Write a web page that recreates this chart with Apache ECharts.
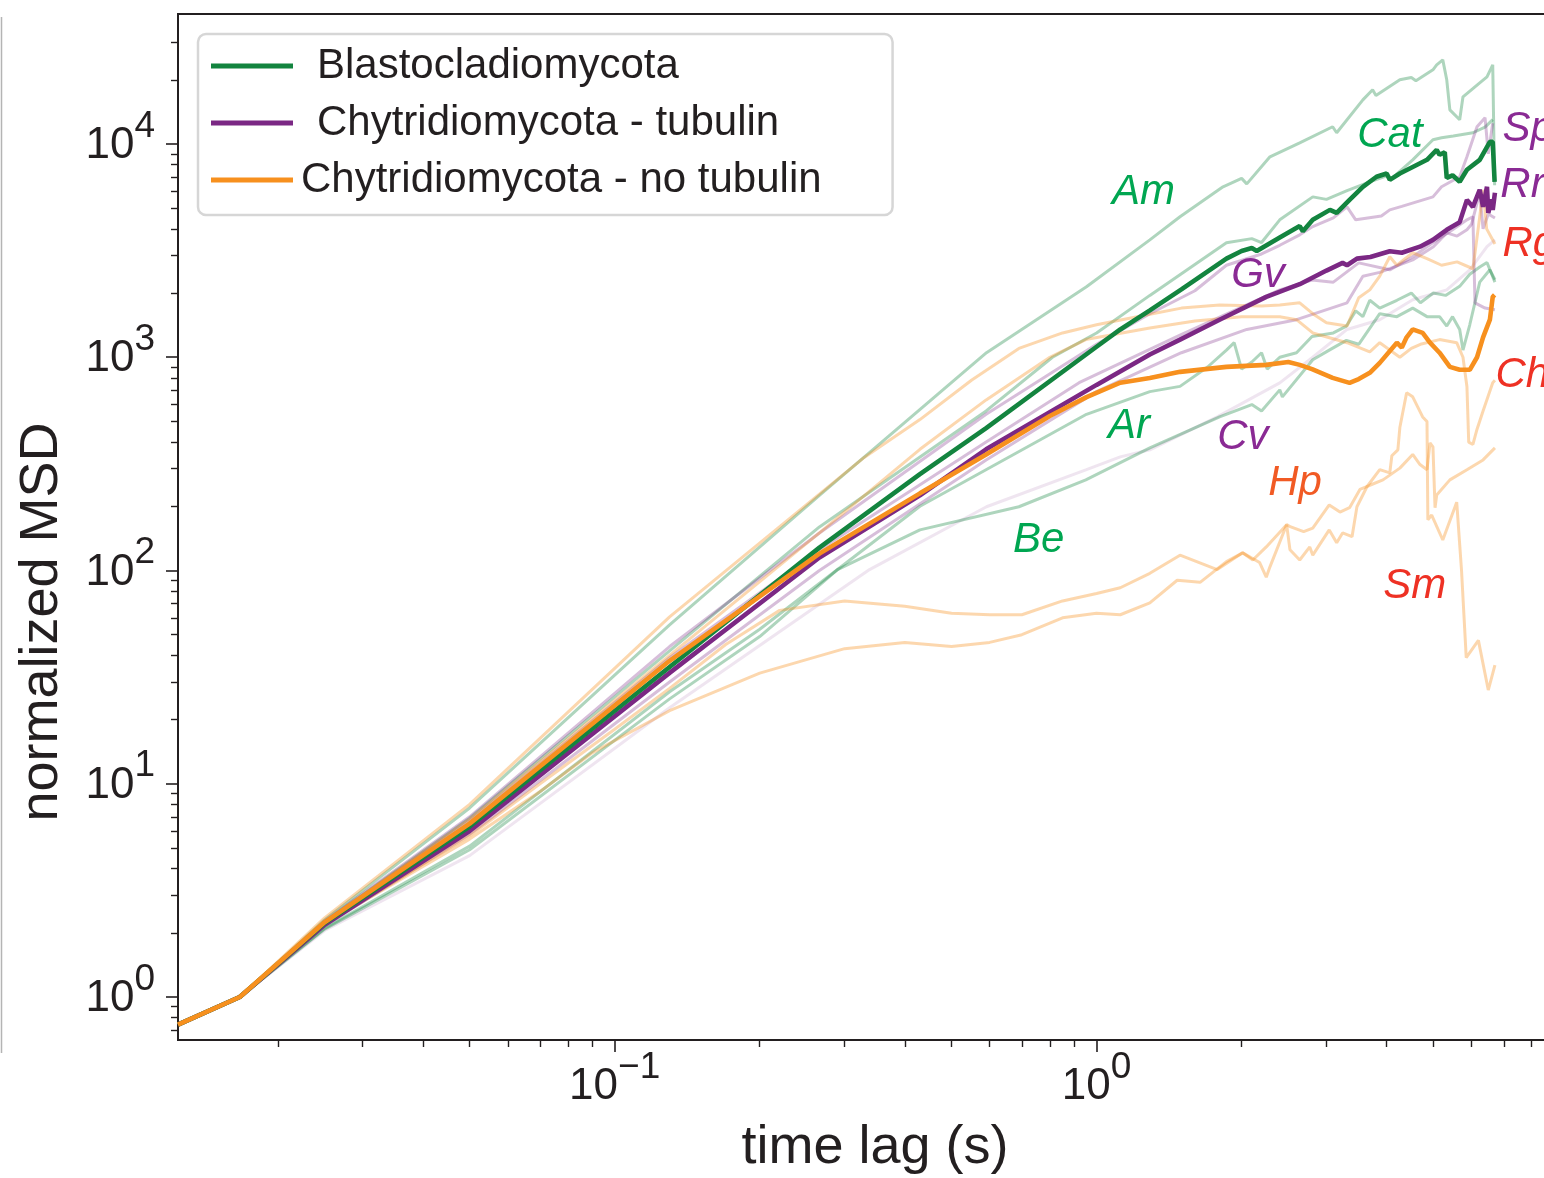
<!DOCTYPE html>
<html><head><meta charset="utf-8">
<script src="https://cdn.jsdelivr.net/npm/echarts@6/dist/echarts.min.js"></script>
<style>html,body{margin:0;padding:0;background:#fff}#c{width:1544px;height:1178px}</style>
</head><body><div id="c"></div>
<script>
const FONT = '"Liberation Sans", Arial, Helvetica, sans-serif';

// ---- tick values ----
const xMajorTicks = [0.1, 1];
const xMinorTicks = [0.02,0.03,0.04,0.05,0.06,0.07,0.08,0.09,0.2,0.3,0.4,0.5,0.6,0.7,0.8,0.9,2,3,4,5,6,7,8,9];
const yMajorTicks = [1, 10, 100, 1000, 10000];
const yMinorTicks = [0.7,0.8,0.9,2,3,4,5,6,7,8,9,20,30,40,50,60,70,80,90,200,300,400,500,600,700,800,900,2000,3000,4000,5000,6000,7000,8000,9000,20000,30000];

// ---- series: [time lag (s), normalized MSD] ----
const meanBlasto = [[0.01241,0.742],[0.01667,1.0],[0.025,2.22],[0.05,6.3],[0.13,35.3],[0.266,128],[0.43,283],[0.59,465],[1.0,1120],[1.12,1350],[1.29,1660],[1.5,2080],[1.86,2900],[2.0,3150],[2.1,3250],[2.15,3150],[2.4,3640],[2.64,4120],[2.68,3900],[2.81,4410],[3.05,4910],[3.15,4750],[3.35,5470],[3.57,6300],[3.81,7020],[4.0,7270],[4.06,6790],[4.26,7270],[4.53,7800],[4.85,8430],[5.08,9390],[5.15,8900],[5.28,9150],[5.33,6930],[5.48,7130],[5.67,6650],[5.87,7570],[6.24,8430],[6.55,10230],[6.64,10230],[6.7,6650]];
const meanTubulin = [[0.01241,0.742],[0.01667,1.0],[0.025,2.18],[0.05,6.0],[0.13,33.1],[0.266,115],[0.43,225],[0.59,370],[1.0,742],[1.29,1030],[1.49,1210],[1.8,1500],[2.25,1920],[2.64,2200],[3.0,2550],[3.24,2770],[3.31,2700],[3.47,2900],[3.7,2950],[4.06,3140],[4.3,3090],[4.69,3300],[4.99,3550],[5.33,3960],[5.67,4300],[5.87,5470],[6.04,5070],[6.24,6100],[6.34,5070],[6.46,6300],[6.5,4750],[6.6,5500],[6.64,4910],[6.71,5910]];
const meanNoTubulin = [[0.01241,0.742],[0.01667,1.0],[0.025,2.24],[0.05,6.5],[0.13,37.7],[0.266,120],[0.43,230],[0.59,350],[0.8,530],[0.953,650],[1.12,760],[1.29,800],[1.49,854],[1.86,901],[2.25,921],[2.5,950],[2.64,921],[2.8,880],[3.09,800],[3.35,758],[3.5,790],[3.69,845],[3.87,941],[4.2,1170],[4.3,1110],[4.4,1240],[4.53,1350],[4.75,1300],[4.92,1170],[5.15,1050],[5.41,901],[5.67,873],[5.95,873],[6.16,1000],[6.34,1240],[6.55,1500],[6.64,1920],[6.7,1960]];

const Am = [[0.01241,0.742],[0.01667,1.0],[0.025,2.3],[0.05,7.7],[0.13,55.6],[0.266,225],[0.591,1050],[0.953,2140],[1.29,3550],[1.49,4560],[1.83,6300],[2.0,6900],[2.05,6500],[2.29,8710],[2.64,10130],[3.09,12050],[3.15,11290],[3.57,16100],[3.74,17950],[3.8,16900],[4.26,20000],[4.5,20500],[4.6,19800],[4.99,22280],[5.08,23500],[5.23,24800],[5.33,20000],[5.41,14450],[5.67,13000],[5.76,16640],[6.24,19360],[6.46,20650],[6.64,23520],[6.7,6400]];
const Cat = [[0.01241,0.742],[0.01667,1.0],[0.025,2.25],[0.05,6.9],[0.13,42],[0.266,160],[0.59,560],[0.81,1000],[1.0,1300],[1.29,1950],[1.86,3440],[2.1,3600],[2.2,3450],[2.4,4410],[2.81,5650],[3.0,5500],[3.31,6040],[3.69,6650],[4.0,7100],[4.1,6900],[4.53,8430],[4.99,10470],[5.2,10700],[5.5,10900],[6.04,11290],[6.4,12000],[6.64,13000]];
const Ar = [[0.01241,0.742],[0.01667,1.0],[0.025,2.1],[0.05,5.1],[0.13,27],[0.2,53],[0.43,200],[0.953,540],[1.29,690],[1.49,730],[1.7,900],[1.86,1080],[1.93,1170],[2.0,880],[2.1,950],[2.2,1050],[2.26,880],[2.4,1000],[2.6,1050],[2.8,1250],[3.1,1300],[3.3,1400],[3.45,1650],[3.57,1550],[3.69,1850],[3.87,1700],[4.2,1850],[4.5,2000],[4.7,1800],[5.0,2000],[5.3,1950],[5.67,2150],[5.95,2450],[6.24,2650],[6.46,2780],[6.71,2250]];
const Be = [[0.01241,0.742],[0.01667,1.0],[0.025,2.08],[0.05,4.9],[0.13,25],[0.2,49],[0.29,101],[0.43,155],[0.69,199],[0.95,266],[1.29,376],[1.8,525],[2.1,600],[2.2,560],[2.4,703],[2.43,652],[2.81,973],[3.04,1080],[3.3,1200],[3.5,1150],[3.87,1600],[4.2,1550],[4.53,1700],[4.85,1550],[5.15,1550],[5.33,1400],[5.48,1550],[5.67,1350],[5.76,1080],[5.95,1420],[6.24,2250],[6.55,2570],[6.71,2310]];

const Gv = [[0.01241,0.742],[0.01667,1.0],[0.025,2.24],[0.05,6.7],[0.13,39],[0.266,125],[0.59,400],[0.92,760],[1.49,1270],[2.4,2070],[2.8,2300],[3.1,2250],[3.5,2770],[4.06,2570],[4.53,2960],[5.08,3550],[5.48,3960],[5.87,4410],[6.04,4560],[6.1,1800],[6.4,1700],[6.71,1670]];
const Sp = [[0.01241,0.742],[0.01667,1.0],[0.025,2.27],[0.05,7.0],[0.13,44],[0.266,150],[0.59,540],[1.0,1150],[1.29,1600],[1.6,2050],[1.86,2700],[2.2,3050],[2.4,3350],[2.64,3750],[2.81,4100],[3.1,4500],[3.31,5070],[3.45,4410],[3.9,4600],[4.06,4910],[4.3,5100],[4.99,5650],[5.2,6300],[5.67,7020],[5.87,8710],[6.16,12050],[6.4,13280],[6.5,9000],[6.64,12500]];
const Rr = [[0.01241,0.742],[0.01667,1.0],[0.025,2.15],[0.05,5.8],[0.13,30],[0.266,100],[0.59,330],[1.0,690],[1.5,1050],[2.05,1350],[2.6,1500],[3.31,1800],[3.57,2400],[3.87,2500],[4.53,2860],[5.0,3300],[5.33,3830],[5.6,3700],[5.87,3960],[6.0,4200],[6.24,5910],[6.34,4000],[6.5,4700],[6.71,4500]];
const Cv = [[0.01241,0.742],[0.01667,1.0],[0.025,2.05],[0.05,4.6],[0.13,22.7],[0.338,101],[0.591,199],[0.953,297],[1.12,341],[1.29,368],[1.78,525],[2.4,758],[2.81,1000],[3.31,1350],[3.87,1500],[4.53,1860],[5.33,2070],[5.95,2570],[6.46,3300],[6.71,3550]];

const Rg = [[0.01241,0.742],[0.01667,1.0],[0.025,2.35],[0.05,8.0],[0.13,60.6],[0.33,340],[0.43,510],[0.55,780],[0.69,1100],[0.85,1300],[1.0,1420],[1.29,1590],[1.5,1700],[1.8,1760],[2.2,1740],[2.4,1760],[2.64,1800],[2.81,1600],[3.0,1450],[3.31,1400],[3.5,1900],[3.69,2070],[3.87,2400],[4.06,2960],[4.2,2700],[4.53,3090],[4.85,2900],[5.2,2700],[5.6,2800],[6.04,2600],[6.24,4560],[6.34,6100],[6.45,4000],[6.71,3400]];
const Ch = [[0.01241,0.742],[0.01667,1.0],[0.025,2.25],[0.05,6.8],[0.13,40],[0.266,150],[0.43,370],[0.59,631],[0.8,1000],[0.95,1210],[1.29,1370],[1.6,1480],[2.0,1550],[2.4,1550],[2.6,1500],[2.81,1300],[3.31,1170],[3.69,1060],[3.87,1170],[4.26,1000],[4.5,1100],[4.7,1150],[5.15,1210],[5.59,1170],[5.76,1000],[5.87,727],[5.92,400],[6.04,390],[6.16,460],[6.34,560],[6.64,760],[6.71,780]];
const Sm = [[0.01241,0.742],[0.01667,1.0],[0.025,2.2],[0.05,5.7],[0.07,10],[0.1,18],[0.13,28],[0.17,45],[0.22,65],[0.3,72],[0.4,68],[0.5,63],[0.6,62],[0.7,62],[0.85,72],[1.0,78],[1.12,83],[1.29,97],[1.49,118],[1.78,101],[2.01,121],[2.18,109],[2.25,93],[2.29,104],[2.48,164],[2.52,125],[2.64,112],[2.77,129],[2.81,118],[3.04,155],[3.15,135],[3.24,150],[3.39,144],[3.47,199],[3.64,247],[3.87,297],[4.06,287],[4.1,345],[4.22,368],[4.26,468],[4.4,681],[4.53,652],[4.75,525],[4.85,500],[4.87,173],[4.96,182],[5.23,139],[5.59,209],[5.72,100],[5.85,39],[6.2,47],[6.5,27.5],[6.71,36]];
const Hp = [[0.01241,0.742],[0.01667,1.0],[0.025,2.2],[0.05,5.5],[0.07,9.2],[0.09,14],[0.13,22],[0.2,33],[0.3,43],[0.4,46],[0.5,44],[0.6,46],[0.7,50],[0.85,60],[1.0,63],[1.12,62],[1.29,70.5],[1.47,90],[1.64,88],[1.86,110],[2.01,121],[2.11,112],[2.25,129],[2.48,164],[2.53,160],[2.69,152],[2.81,158],[3.04,203],[3.2,188],[3.35,197],[3.52,240],[3.69,251],[3.93,266],[4.26,302],[4.53,350],[4.69,314],[4.85,297],[4.92,396],[4.99,380],[5.04,197],[5.08,226],[5.41,266],[5.87,297],[6.34,330],[6.71,376]];

// ---- species labels (anchor = left edge, vertical middle) ----
const labelNames = ['Am','Cat','Ar','Be','Gv','Cv','Hp','Sm','Sp','Rr','Rg','Ch'];
const labelLag   = [1.074, 3.467, 1.054, 0.669, 1.898, 1.775, 2.265, 3.926, 6.94, 6.87, 6.94, 6.71];
const labelMsd   = [5935, 11040, 472, 139, 2435, 423, 257, 84.7, 11660, 6435, 3367, 827];
const labelGroup = ['g','g','g','g','p','p','h','r','p','p','r','r'];

// ---- styles ----
const GREEN = '#13843f', PURPLE = '#7b2884', ORANGE = '#f7901e';
const labelColors = {g:'#00a651', p:'#8a2a94', h:'#f15a24', r:'#ee3124'};
const INK = '#231f20';

function faint(name, data, color, w) {
  return {type:'line', name, data, symbol:'none', showSymbol:false, silent:true,
    lineStyle:{color, width: w || 3}, itemStyle:{color}, z:2};
}
function bold(name, data, color) {
  return {type:'line', name, data, symbol:'none', showSymbol:false, silent:true,
    lineStyle:{color, width:4.6}, itemStyle:{color}, z:5};
}
const gF = 'rgba(19,132,63,0.34)', pF = 'rgba(123,40,132,0.30)', oF = 'rgba(247,144,30,0.36)', cvF = 'rgba(123,40,132,0.12)';

function powLabel(v) {
  const e = Math.round(Math.log10(v));
  return '{b|10}{s|' + (e < 0 ? '\u2212' + (-e) : e) + '}';
}
const richTick = {
  b: {fontSize:44, fontFamily:FONT, color:INK, lineHeight:60, verticalAlign:'bottom'},
  s: {fontSize:37, fontFamily:FONT, color:INK, verticalAlign:'top'}
};
const XMIN = 0.01241, XMAX = 9.07, YMIN = 0.6285, YMAX = 40700;

const chart = echarts.init(document.getElementById('c'), null, {renderer:'canvas'});
chart.setOption({
  animation:false,
  backgroundColor:'#fff',
  grid:{left:178, top:14, width:1380, height:1026, show:true, borderColor:INK, borderWidth:2,
        backgroundColor:'transparent', containLabel:false, outerBoundsMode:'none'},
  legend:{
    data:['Blastocladiomycota','Chytridiomycota - tubulin','Chytridiomycota - no tubulin'],
    orient:'vertical', left:198, top:34, selectedMode:false,
    icon:'rect', itemWidth:82, itemHeight:5, itemGap:7,
    padding:[7,71,10,13],
    backgroundColor:'#fff', borderColor:'#d6d6d6', borderWidth:2.5, borderRadius:8,
    formatter: n => (n === 'Chytridiomycota - no tubulin' ? '{c|' : '{a|') + n + '}',
    textStyle:{fontSize:42, fontFamily:FONT, color:INK, lineHeight:50,
      rich:{a:{fontSize:42, fontFamily:FONT, color:INK, lineHeight:50, padding:[0,0,0,19]},
            c:{fontSize:42, fontFamily:FONT, color:INK, lineHeight:50, padding:[0,0,0,3]}}}
  },
  xAxis:[
    {type:'log', logBase:10, min:XMIN, max:XMAX,
     name:'time lag (s)', nameLocation:'middle', nameGap:81,
     nameTextStyle:{fontSize:54, fontFamily:FONT, color:INK, lineHeight:54, padding:[0,0,0,14]},
     axisLine:{show:true, lineStyle:{color:INK, width:2}},
     axisTick:{show:true, length:12, lineStyle:{color:INK, width:1.6}, customValues:xMajorTicks},
     axisLabel:{show:true, customValues:xMajorTicks, margin:9, formatter:powLabel, rich:richTick},
     splitLine:{show:false}, minorTick:{show:false}},
    {type:'log', logBase:10, min:XMIN, max:XMAX, position:'bottom',
     axisLine:{show:false}, axisLabel:{show:false}, splitLine:{show:false},
     axisTick:{show:true, length:7, lineStyle:{color:INK, width:1.4}, customValues:xMinorTicks}}
  ],
  yAxis:[
    {type:'log', logBase:10, min:YMIN, max:YMAX,
     axisLine:{show:true, lineStyle:{color:INK, width:2}},
     axisTick:{show:true, length:12, lineStyle:{color:INK, width:1.6}, customValues:yMajorTicks},
     axisLabel:{show:true, customValues:yMajorTicks, margin:23, padding:[0,0,12,0], formatter:powLabel, rich:richTick},
     splitLine:{show:false}, minorTick:{show:false}},
    {type:'log', logBase:10, min:YMIN, max:YMAX, position:'left',
     axisLine:{show:false}, axisLabel:{show:false}, splitLine:{show:false},
     axisTick:{show:true, length:7, lineStyle:{color:INK, width:1.4}, customValues:yMinorTicks}}
  ],
  graphic:[
    {type:'text', x:42, y:622, rotation:Math.PI/2, silent:true,
     style:{text:'normalized MSD', font:'54px ' + FONT, fill:INK, align:'center', verticalAlign:'middle', textAlign:'center', textVerticalAlign:'middle'}},
    {type:'line', silent:true, shape:{x1:1.5, y1:17, x2:1.5, y2:1053}, style:{stroke:'#b4b4b4', lineWidth:1.5}}
  ],
  series:[
    faint('Cv', Cv, cvF, 3),
    faint('Be', Be, gF), faint('Ar', Ar, gF), faint('Cat', Cat, gF), faint('Am', Am, gF),
    faint('Rr', Rr, pF), faint('Gv', Gv, pF), faint('Sp', Sp, pF),
    faint('Hp', Hp, oF), faint('Sm', Sm, oF), faint('Ch', Ch, oF), faint('Rg', Rg, oF),
    bold('Chytridiomycota - tubulin', meanTubulin, PURPLE),
    bold('Blastocladiomycota', meanBlasto, GREEN),
    bold('Chytridiomycota - no tubulin', meanNoTubulin, ORANGE),
    {type:'scatter', name:'labels', silent:true, z:10, clip:false,
     symbolSize:1, itemStyle:{color:'rgba(255,255,255,0)', opacity:1},
     data: labelNames.map((n, i) => ({name:n, value:[labelLag[i], labelMsd[i]],
        label:{color: labelColors[labelGroup[i]], opacity:1}})),
     label:{show:true, position:'right', distance:0, formatter:p => p.name, opacity:1,
        fontSize:42, fontStyle:'italic', fontFamily:FONT}}
  ]
});
</script>
</body></html>
